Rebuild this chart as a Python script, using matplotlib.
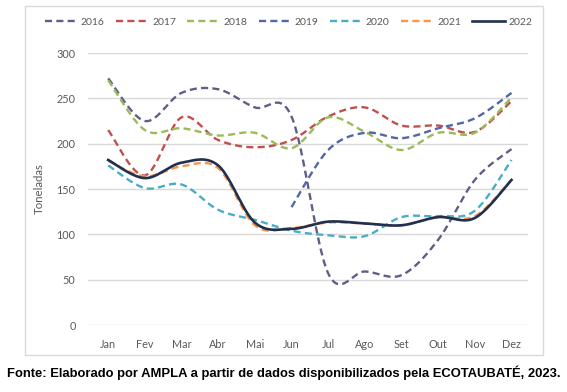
import numpy as np
import matplotlib
matplotlib.use("Agg")
import matplotlib.pyplot as plt
from matplotlib.patches import Rectangle

months = ["Jan", "Fev", "Mar", "Abr", "Mai", "Jun", "Jul", "Ago", "Set", "Out", "Nov", "Dez"]
years = ["2016", "2017", "2018", "2019", "2020", "2021", "2022"]

v2016 = [272, 225, 256, 260, 240, 230, 57, 59, 55, 94, 160, 194]
v2017 = [215, 165, 229, 204, 196, 204, 230, 240, 220, 220, 213, 247]
v2018 = [270, 215, 217, 209, 212, 195, 229, 213, 193, 212, 212, 251]
v2019 = [np.nan, np.nan, np.nan, np.nan, np.nan, 130, 193, 212, 206, 217, 228, 256]
v2020 = [176, 151, 155, 127, 116, 104, 99, 98, 119, 120, 126, 182]
v2021 = [181, 164, 175, 173, 110, 107, 113, 112, 110, 119, 120, 160]
v2022 = [182, 162, 179, 176, 113, 106, 114, 112, 110, 119, 118, 160]

series = [v2016, v2017, v2018, v2019, v2020, v2021, v2022]
colors = ["#5D5F87", "#C0504D", "#9BBB59", "#5266A8", "#4BACC6", "#F79646", "#1F3050"]
styles = ["dash", "dash", "dash", "dash", "dash", "dash", "solid"]


def smooth(xs, ys, n=30):
    xs = np.asarray(xs, float)
    ys = np.asarray(ys, float)
    m = ~np.isnan(ys)
    xs, ys = xs[m], ys[m]
    P = np.column_stack([xs, ys])
    k = len(P)
    out = []
    t = np.linspace(0, 1, n)
    for i in range(k - 1):
        p0 = P[i - 1] if i > 0 else P[i]
        p1 = P[i]
        p2 = P[i + 1]
        p3 = P[i + 2] if i + 2 < k else P[i + 1]
        c1 = p1 + (p2 - p0) / 6.0
        c2 = p2 - (p3 - p1) / 6.0
        seg = ((1 - t) ** 3)[:, None] * p1 + (3 * (1 - t) ** 2 * t)[:, None] * c1 \
            + (3 * (1 - t) * t ** 2)[:, None] * c2 + (t ** 3)[:, None] * p2
        out.append(seg if i == 0 else seg[1:])
    arr = np.vstack(out)
    return arr[:, 0], arr[:, 1]


plt.rcParams['font.family'] = ['Lato', 'DejaVu Sans']

fig = plt.figure(figsize=(5.67, 3.92), dpi=100)
fig.patch.set_facecolor("white")

# outer chart border
fig.patches.append(Rectangle((25 / 567, 1 - 355 / 392), (543 - 25) / 567, (355 - 6) / 392,
                             transform=fig.transFigure, fill=False, edgecolor="#D9D9D9", lw=1.0))

ax = fig.add_axes([88 / 567, 1 - 325 / 392, 440 / 567, 272 / 392])
x = np.arange(len(months))
for name, vals, c, s in zip(years, series, colors, styles):
    sx, sy = smooth(x, vals)
    if s == "dash":
        ax.plot(sx, sy, color=c, lw=1.7, linestyle=(0, (3, 1.8)), label=name, solid_capstyle="butt")
    else:
        ax.plot(sx, sy, color=c, lw=1.9, linestyle="-", label=name)

ax.set_ylim(0, 300)
ax.set_xlim(-0.55, 11.45)
ax.set_yticks(np.arange(0, 301, 50))
ax.set_xticks(x)
ax.set_xticklabels(months)
ax.grid(axis="y", color="#D9D9D9", lw=1.0)
ax.set_axisbelow(True)
for sp in ax.spines.values():
    sp.set_visible(False)
ax.tick_params(axis="both", length=0, colors="#595959", labelsize=7.8)
ax.tick_params(axis="x", pad=10)
ax.tick_params(axis="y", pad=9)
ax.set_ylabel("Toneladas", color="#595959", fontsize=8.2, labelpad=8)

leg = fig.legend(loc="center", bbox_to_anchor=(0.509, 1 - 22 / 392), ncol=7, frameon=False,
                 fontsize=7.5, handlelength=3.1, handletextpad=0.35, columnspacing=1.1,
                 labelcolor="#595959")

fig.text(0.5, 1 - 373 / 392,
         "Fonte: Elaborado por AMPLA a partir de dados disponibilizados pela ECOTAUBATÉ, 2023.",
         ha="center", va="center", fontsize=9.4, fontweight="bold",
         family=["Liberation Sans", "DejaVu Sans"], color="black")

fig.savefig("out.png", dpi=100, facecolor="white")
